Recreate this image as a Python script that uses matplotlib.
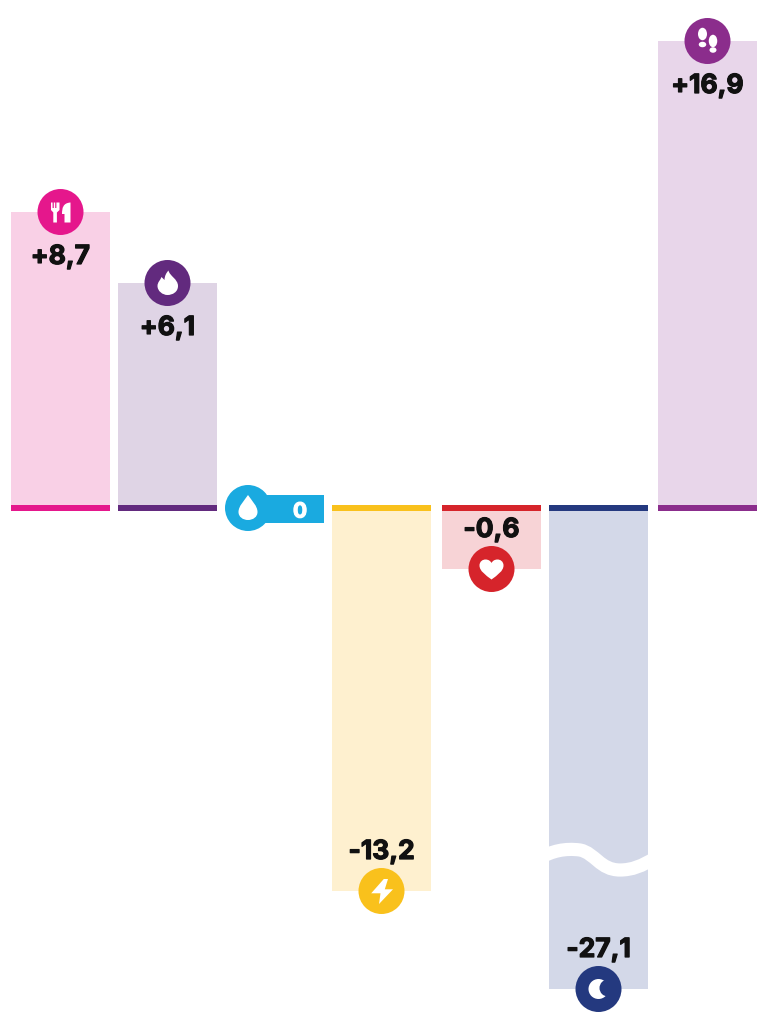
import matplotlib
matplotlib.use("Agg")
import matplotlib.pyplot as plt
import matplotlib.patheffects as pe
from matplotlib.patches import Circle, PathPatch, Polygon, Ellipse, Rectangle
from matplotlib.path import Path

# ---- data ---------------------------------------------------------------
CATEGORIES = ["food", "calories", "water", "energy", "heart", "sleep", "steps"]
LABELS     = ["+8,7", "+6,1", "0", "-13,2", "-0,6", "-27,1", "+16,9"]
# drawn bar lengths, the picture is not to scale (and sleep has a cut in it)
HEIGHTS    = [296, 225, 0, -383, -61, -481, 467]
DARK  = ["#e5178c", "#622a7e", "#1aaae0", "#f9c11c", "#d6242b", "#24397f", "#8b2d8c"]
LIGHT = ["#f9d0e6", "#dfd4e5", "#1aaae0", "#fef0cf", "#f7d3d6", "#d3d8e8", "#e8d6ea"]

# ---- layout (axes run in pixels, baseline at y=0) -------------------------
BAR_CENTERS = [60.5, 167.5, 248, 381.5, 491.5, 598.5, 707.5]
BAR_W  = 99
STRIPE = 6
R      = 23
LABEL_OFFSET = 42
FONT   = ["Inter", "DejaVu Sans"]

fig = plt.figure(figsize=(7.68, 10.24), dpi=100)
ax = fig.add_axes([0, 0, 1, 1])
ax.set_xlim(0, 768)
ax.set_ylim(-516, 508)
ax.axis("off")

M, L, C = Path.MOVETO, Path.LINETO, Path.CURVE4


def poly(cx, cy, pts, color="white", z=6):
    ax.add_patch(Polygon([(cx + x, cy + y) for x, y in pts], closed=True,
                         fc=color, ec="none", zorder=z))


def curve(cx, cy, verts, codes=None, color="white", z=6):
    if codes is None:
        codes = [M] + [C] * (len(verts) - 1)
    ax.add_patch(PathPatch(Path([(cx + x, cy + y) for x, y in verts], codes),
                           fc=color, ec="none", zorder=z))


def icon_food(cx, cy, color):
    poly(cx, cy, [(-9.5, 9.5), (-7.9, 9.5), (-7.9, 4), (-6.7, 4), (-6.7, 9.5),
                  (-5.3, 9.5), (-5.3, 4), (-4.1, 4), (-4.1, 9.5), (-2.5, 9.5),
                  (-1, 9.5), (-1, 2), (-3.6, -0.5), (-3.6, -10.5), (-7.2, -10.5),
                  (-7.2, -0.5), (-9.5, 2)])
    curve(cx, cy, [(10, 9.5), (10, -10.5), (4, -10.5), (4, -2), (1.5, -2),
                   (1.5, 4), (2.5, 9), (10, 9.5)],
          [M, L, L, L, L, C, C, C])


def icon_flame(cx, cy, color):
    curve(cx, cy, [(1, 12.5), (2, 7), (10.5, 4), (10.5, -3), (10.5, -9), (5, -12), (0, -12),
                   (-5, -12), (-10, -8), (-10, -3), (-10, 1), (-7, 3), (-6, 6),
                   (-5, 5), (-4, 4), (-3, 3), (-3, 7), (-1, 10.5), (1, 12.5)])


def icon_drop(cx, cy, color):
    curve(cx, cy, [(0, 13), (4, 7), (9.5, 2), (9.5, -4), (9.5, -9), (5, -12), (0, -12),
                   (-5, -12), (-9.5, -9), (-9.5, -4), (-9.5, 2), (-4, 7), (0, 13)])


def icon_bolt(cx, cy, color):
    poly(cx, cy, [(2.3, 12), (-10.3, -2.3), (-1, -2.3), (-2.5, -13),
                  (11.5, 1.7), (3.3, 1.7), (6.5, 12)])


def icon_heart(cx, cy, color):
    curve(cx, cy, [(0, -10.5), (-6, -6), (-12, -2), (-12, 3.5), (-12, 7.5), (-9, 9.5), (-6, 9.5),
                   (-3, 9.5), (-1, 8), (0, 6), (1, 8), (3, 9.5), (6, 9.5),
                   (9, 9.5), (12, 7.5), (12, 3.5), (12, -2), (6, -6), (0, -10.5)])


def icon_moon(cx, cy, color):
    ax.add_patch(Circle((cx, cy), 10, fc="white", ec="none", zorder=6))
    ax.add_patch(Circle((cx + 9.5, cy + 1), 8.5, fc=color, ec="none", zorder=7))


def icon_steps(cx, cy, color):
    for dx, sole_y, heel_y, w in [(-5, 7, -3.5, 9), (5.5, 0, -9, 8.5)]:
        ax.add_patch(Ellipse((cx + dx, cy + sole_y), w, 12.5, fc="white", ec="none", zorder=6))
        ax.add_patch(Ellipse((cx + dx, cy + heel_y), w - 1.5, 5.5, fc="white", ec="none", zorder=6))


ICONS = [icon_food, icon_flame, icon_drop, icon_bolt, icon_heart, icon_moon, icon_steps]

for i, cat in enumerate(CATEGORIES):
    x, h = BAR_CENTERS[i], HEIGHTS[i]
    if cat != "water":
        ax.bar(x, h, width=BAR_W, color=LIGHT[i], zorder=1)
        ax.bar(x, STRIPE, bottom=-STRIPE / 2, width=BAR_W, color=DARK[i], zorder=3)
        sign = 1 if h > 0 else -1
        t = ax.text(x, h - sign * LABEL_OFFSET, LABELS[i], ha="center", va="center_baseline",
                    fontsize=19, fontweight="bold", color="#111111", family=FONT, zorder=5)
        t.set_path_effects([pe.withStroke(linewidth=0.9, foreground="#111111")])
    else:
        # water has no bar, just a tag on the baseline
        ax.add_patch(Rectangle((x, -14.5), 76, 27.5, fc=DARK[i], ec="none", zorder=3))
        t = ax.text(x + 52, -1.5, LABELS[i], ha="center", va="center_baseline",
                    fontsize=15, fontweight="bold", color="white", family=FONT, zorder=5)
        t.set_path_effects([pe.withStroke(linewidth=0.9, foreground="white")])
    ax.add_patch(Circle((x, h), R, fc=DARK[i], ec="none", zorder=5))
    ICONS[i](x, h, DARK[i])

# white cut through the sleep bar
ax.add_patch(PathPatch(
    Path([(540, -350), (552, -343), (565, -340), (580, -342),
          (595, -345), (600, -362), (620, -362),
          (632, -362), (642, -358), (655, -350)],
         [M, C, C, C, C, C, C, C, C, C]),
    fc="none", ec="white", lw=9.5, zorder=2))

fig.savefig("out.png", dpi=100)
plt.close(fig)
